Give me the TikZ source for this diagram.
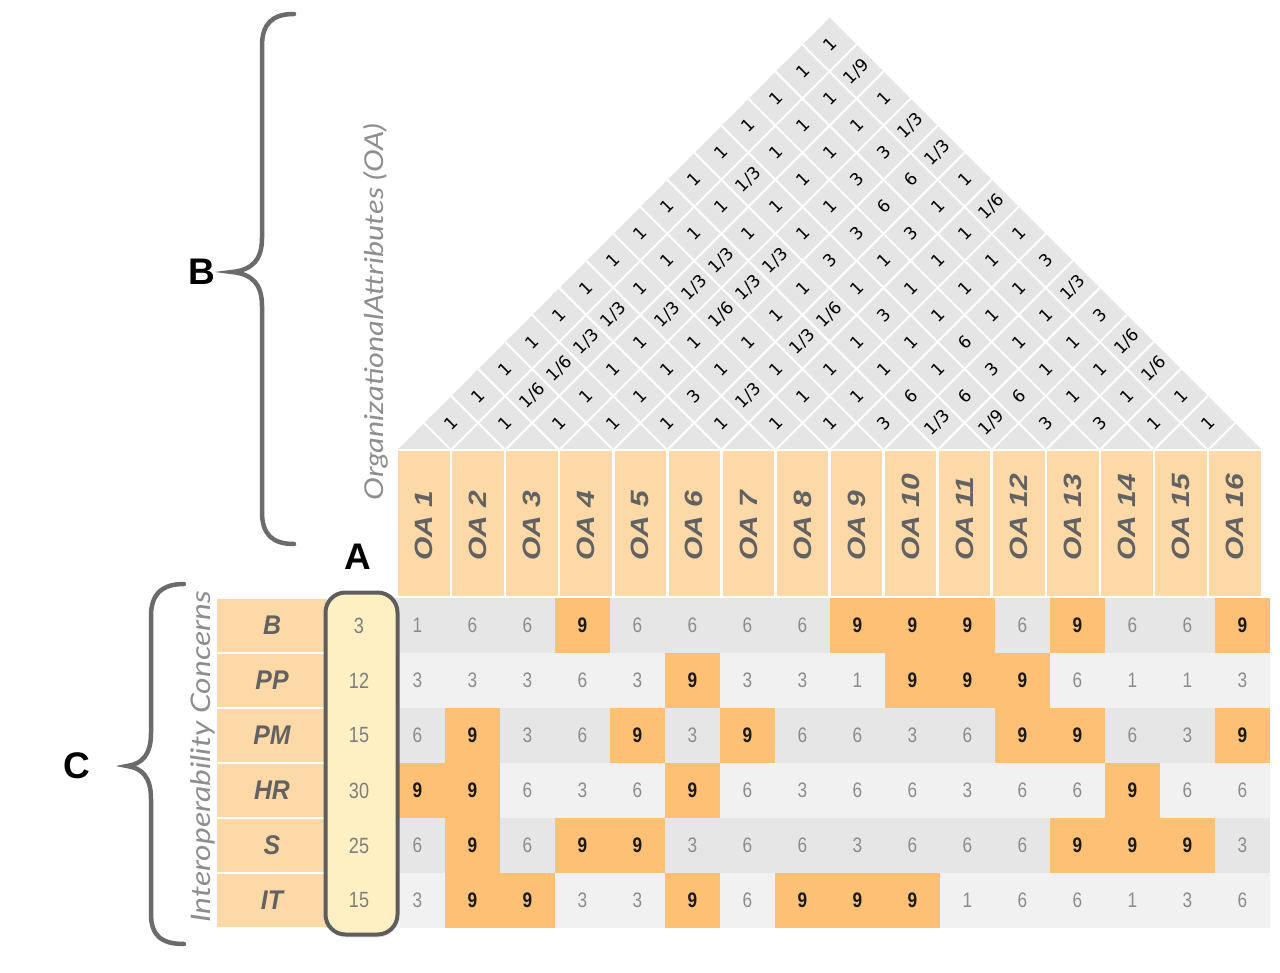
\documentclass[tikz,border=0pt]{standalone}
\usepackage{fontspec}
\setmainfont{Liberation Sans}
\newfontfamily\roofFont{DejaVu Sans}
\newfontfamily\thinFont{Lato}[FakeStretch=1.18]
\newfontfamily\narrowFont{Liberation Sans}[FakeStretch=0.82]
\newfontfamily\rowFont{Liberation Sans}[FakeStretch=0.92]
\newfontfamily\tallFont{Liberation Sans}[FakeStretch=1.2]
\usetikzlibrary{shadows}
\definecolor{hdrOrange}{HTML}{FDD9A8}
\definecolor{hiOrange}{HTML}{FDC074}
\definecolor{grayA}{HTML}{E6E6E6}
\definecolor{grayB}{HTML}{F1F1F1}
\definecolor{roofGray}{HTML}{E5E5E5}
\definecolor{boxYellow}{HTML}{FEF0C3}
\definecolor{boxEdge}{HTML}{5E5E5E}
\definecolor{braceGray}{HTML}{6B6B6B}
\definecolor{txtGray}{HTML}{626262}
\definecolor{numGray}{HTML}{8C8C8C}
\definecolor{labelGray}{HTML}{8E8E8E}
\begin{document}
\begin{tikzpicture}[x=1pt,y=-1pt,
  roofnum/.style={font=\roofFont\fontsize{17}{17}\selectfont, rotate=45, inner sep=0pt, text=black},
  roofline/.style={draw=white, line width=2pt},
  hdrcell/.style={fill=hdrOrange, draw=white, line width=2.5pt, minimum width=54.0625pt, minimum height=147pt, inner sep=0pt, outer sep=0pt},
  hdrtxt/.style={font=\tallFont\fontsize{25}{25}\selectfont\bfseries\itshape, text=txtGray, rotate=90, anchor=west, inner sep=0pt},
  rowcell/.style={fill=hdrOrange, draw=white, line width=2.5pt, minimum width=112pt, minimum height=55pt, inner sep=0pt, outer sep=0pt, font=\rowFont\fontsize{27}{27}\selectfont\bfseries\itshape, text=txtGray},
  cellplain/.style={minimum width=55pt, minimum height=55pt, inner sep=0pt, outer sep=0pt, font=\narrowFont\fontsize{21}{21}\selectfont, text=numGray},
  cellnine/.style={cellplain, fill=hiOrange, font=\narrowFont\bfseries\fontsize{21}{21}\selectfont, text=black!90},
  impbox/.style={draw=boxEdge, line width=4pt, fill=boxYellow, rounded corners=20pt, minimum width=72pt, minimum height=342pt, inner sep=0pt,
     drop shadow={opacity=0.18, shadow xshift=1pt, shadow yshift=-3pt}},
  impnum/.style={font=\narrowFont\fontsize{22}{22}\selectfont, text=numGray!90!black, inner sep=0pt},
  biglabel/.style={font=\fontsize{37}{37}\selectfont\bfseries, text=black, inner sep=0pt},
  sidetitle/.style={text=labelGray, rotate=90, inner sep=0pt},
  bracestyle/.style={draw=braceGray, line width=4.5pt, line cap=round}
]
\useasboundingbox (0,0) rectangle (1280,973);

% ---------- roof ----------
\fill[roofGray] (397,450) -- (829.5,17.5) -- (1262,450) -- cycle;
\foreach \k in {1,...,15} {
  \pgfmathsetmacro\bx{397+54.0625*\k}
  \draw[roofline] ({(397+\bx)/2},{450-(\bx-397)/2}) -- (\bx,450) -- ({(1262+\bx)/2},{450-(1262-\bx)/2});
}
\foreach \vals [count=\d] in {
{1,1,1,1,1,1,1,1,3,1/3,1/9,3,3,1,1},
{1,1/6,1,1,3,1/3,1,1,6,6,6,1,1,1},
{1,1/6,1,1,1,1,1,1,1,3,1,1,1/6},
{1,1/3,1,1,1,1/3,1,1,6,1,1,1/6},
{1,1/3,1/3,1/6,1,1/6,3,1,1,1,3},
{1,1,1/3,1/3,1,1,1,1,1,1/3},
{1,1,1/3,1/3,3,1,1,1,3},
{1,1,1,1,3,3,1,1},
{1,1,1,1,6,1,1/6},
{1,1/3,1,3,6,1},
{1,1,1,3,1/3},
{1,1,1,1/3},
{1,1,1},
{1,1/9},
{1}} {
  \foreach \v [count=\i] in \vals {
    \node[roofnum] (r\d-\i) at ({397+54.0625*(\i-0.5+\d/2)}, {450-54.0625*\d/2}) {\v};
  }
}

% ---------- column headers ----------
\foreach \k in {1,...,16} {
  \node[hdrcell] (h\k) at ({397+54.0625*(\k-0.5)}, 523.5) {};
  \node[hdrtxt] (ht\k) at ({397+54.0625*(\k-0.5)}, 561) {OA \k};
}

% ---------- relationship matrix ----------
\foreach \vals/\rc [count=\r] in {
{1,6,6,9,6,6,6,6,9,9,9,6,9,6,6,9}/grayA,
{3,3,3,6,3,9,3,3,1,9,9,9,6,1,1,3}/grayB,
{6,9,3,6,9,3,9,6,6,3,6,9,9,6,3,9}/grayA,
{9,9,6,3,6,9,6,3,6,6,3,6,6,9,6,6}/grayB,
{6,9,6,9,9,3,6,6,3,6,6,6,9,9,9,3}/grayA,
{3,9,9,3,3,9,6,9,9,9,1,6,6,1,3,6}/grayB} {
  \foreach \v [count=\k] in \vals {
    \ifnum\v=9
      \node[cellnine] (m\r-\k) at ({390+55*(\k-0.5)}, {598+55*(\r-0.5)}) {\v};
    \else
      \node[cellplain, fill=\rc] (m\r-\k) at ({390+55*(\k-0.5)}, {598+55*(\r-0.5)}) {\v};
    \fi
  }
}

% ---------- row headers ----------
\foreach \lab [count=\r] in {B,PP,PM,HR,S,IT} {
  \node[rowcell] (rh\r) at (272, {598+55*(\r-0.5)}) {\lab};
}

% ---------- importance column ----------
\node[impbox] (imp) at (361.5,763.5) {};
\foreach \w [count=\r] in {3,12,15,30,25,15} {
  \node[impnum] (iv\r) at (359, {598+55*(\r-0.5)}) {\w};
}

% ---------- side titles ----------
\node[sidetitle, font=\thinFont\itshape\fontsize{26}{26}\selectfont] (oaTitle) at (376,312) {OrganizationalAttributes (OA)};
\node[sidetitle, font=\thinFont\itshape\fontsize{27}{27}\selectfont] (icTitle) at (203,757) {Interoperability Concerns};

% ---------- braces and letters ----------
\draw[bracestyle] (294,14) .. controls (272,14) and (262,24) .. (262,46)
   -- (262,238) .. controls (262,260) and (252,270) .. (232,272)
   .. controls (252,274) and (262,284) .. (262,306)
   -- (262,512) .. controls (262,534) and (272,544) .. (294,544);
\draw[bracestyle] (184,584) .. controls (162,584) and (151,594) .. (151,616)
   -- (151,733) .. controls (151,755) and (142,764) .. (127,766)
   .. controls (142,768) and (151,777) .. (151,799)
   -- (151,914) .. controls (151,936) and (162,944) .. (184,944);
\node[biglabel] (labB) at (202,272) {B};
\node[biglabel] (labC) at (77,766) {C};
\node[biglabel] (labA) at (358,557) {A};
\end{tikzpicture}
\end{document}
